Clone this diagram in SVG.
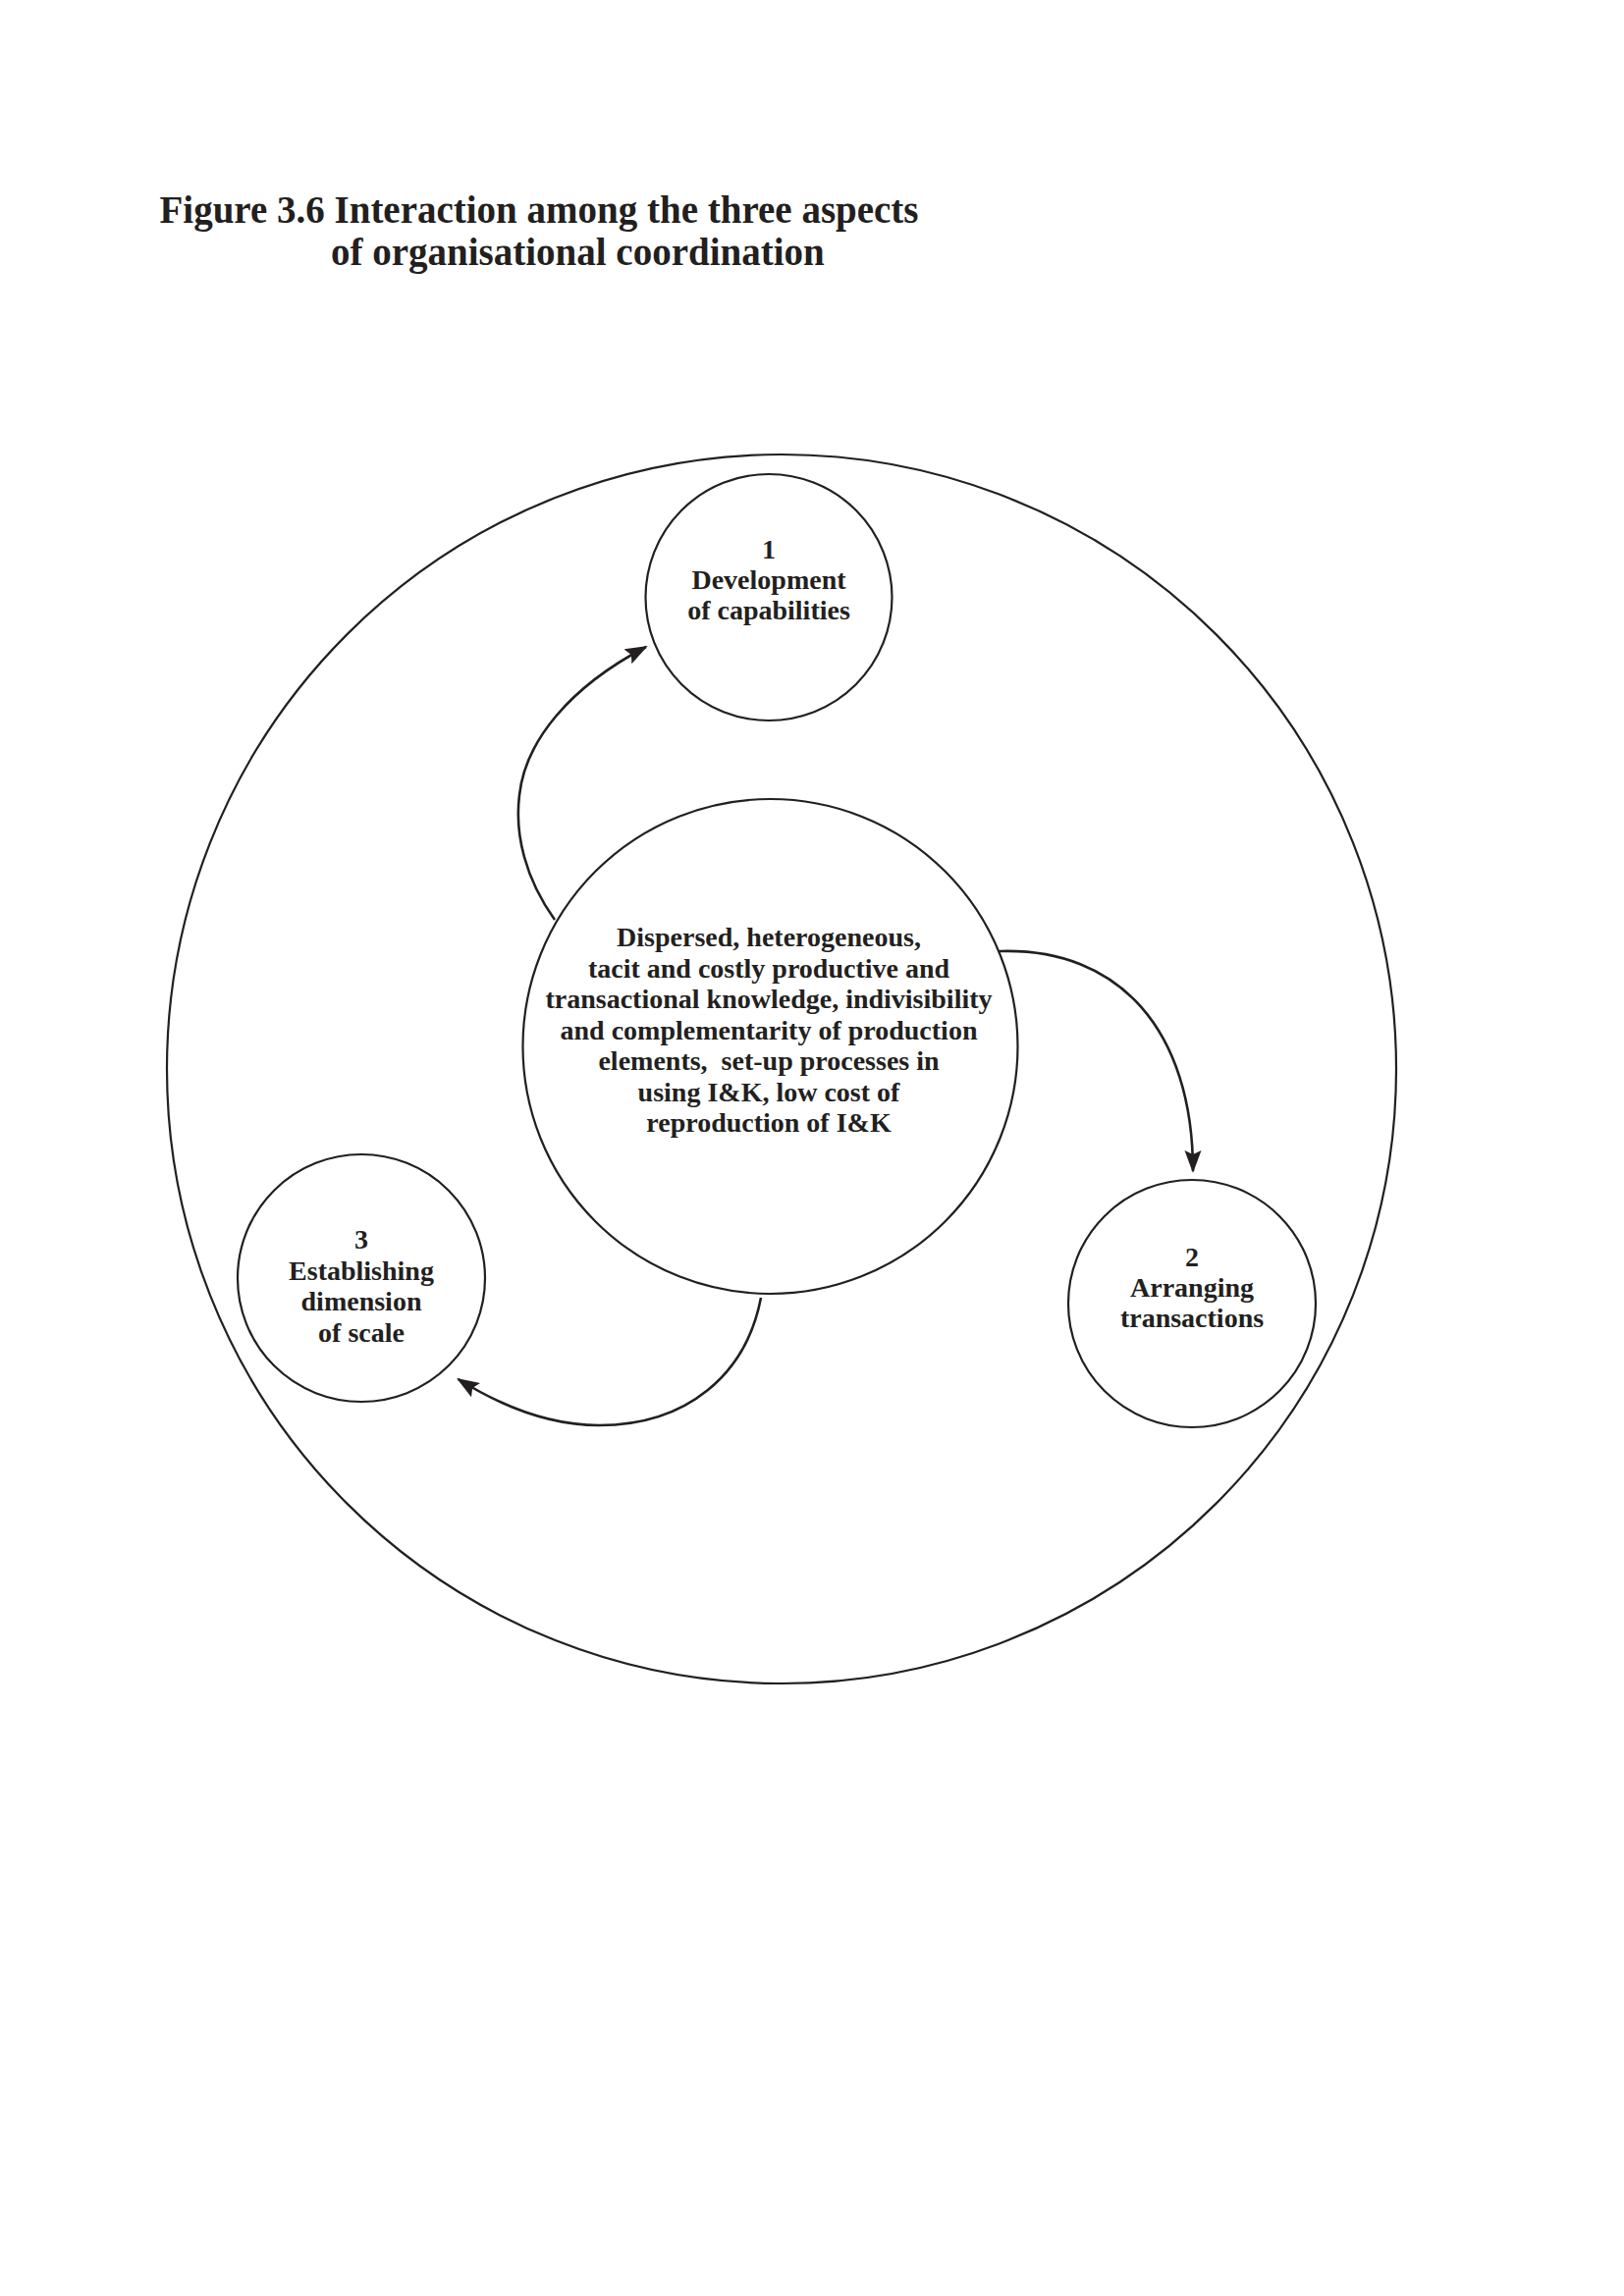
<svg xmlns="http://www.w3.org/2000/svg" width="1654" height="2339" viewBox="0 0 1654 2339">
<style>
.c{fill:none;stroke:#231f20;stroke-width:2.2}
.t{font-family:"Liberation Serif","Times New Roman",serif;font-weight:bold;font-size:28px;fill:#231f20;text-anchor:middle}
.ttl{font-family:"Liberation Serif","Times New Roman",serif;font-weight:bold;font-size:39px;fill:#231f20}
.a{fill:none;stroke:#231f20;stroke-width:2.6}
</style>
<defs>
<marker id="ah" markerUnits="userSpaceOnUse" markerWidth="26" markerHeight="20" refX="21" refY="8.5" orient="auto">
<path d="M0,0 L23,8.5 L0,17 L4,8.5 z" fill="#231f20"/>
</marker>
</defs>
<rect width="1654" height="2339" fill="#fff"/>
<g id="title">
<text class="ttl" x="162.5" y="227">Figure 3.6 Interaction among the three aspects</text>
<text class="ttl" x="337" y="270">of organisational coordination</text>
</g>
<g id="outer">
<circle class="c" cx="796" cy="1089" r="626"/>
</g>
<g id="node-center">
<circle class="c" cx="784.5" cy="1066" r="252"/>
<text class="t" x="783" y="964">Dispersed, heterogeneous,</text>
<text class="t" x="783" y="995.5">tacit and costly productive and</text>
<text class="t" x="783" y="1027">transactional knowledge, indivisibility</text>
<text class="t" x="783" y="1058.5">and complementarity of production</text>
<text class="t" x="783" y="1090" xml:space="preserve">elements,  set-up processes in</text>
<text class="t" x="783" y="1121.5">using I&amp;K, low cost of</text>
<text class="t" x="783" y="1153">reproduction of I&amp;K</text>
</g>
<g id="node-1">
<circle class="c" cx="783" cy="608.5" r="125.5"/>
<text class="t" x="783" y="569">1</text>
<text class="t" x="783" y="600">Development</text>
<text class="t" x="783" y="631">of capabilities</text>
</g>
<g id="node-2">
<circle class="c" cx="1214" cy="1328" r="126"/>
<text class="t" x="1214" y="1290">2</text>
<text class="t" x="1214" y="1321">Arranging</text>
<text class="t" x="1214" y="1352">transactions</text>
</g>
<g id="node-3">
<circle class="c" cx="368" cy="1302" r="126"/>
<text class="t" x="368" y="1272">3</text>
<text class="t" x="368" y="1303.5">Establishing</text>
<text class="t" x="368" y="1335">dimension</text>
<text class="t" x="368" y="1366.5">of scale</text>
</g>
<g id="connectors">
<path class="a" d="M565,937 C535,895 524,850 529,810 C535,755 580,700 658,659" marker-end="url(#ah)"/>
<path class="a" d="M1018,969 C1140,965 1215,1050 1215,1193" marker-end="url(#ah)"/>
<path class="a" d="M775,1322 C760,1400 700,1452 610,1452 C560,1452 510,1432 466.7,1405" marker-end="url(#ah)"/>
</g>
</svg>
